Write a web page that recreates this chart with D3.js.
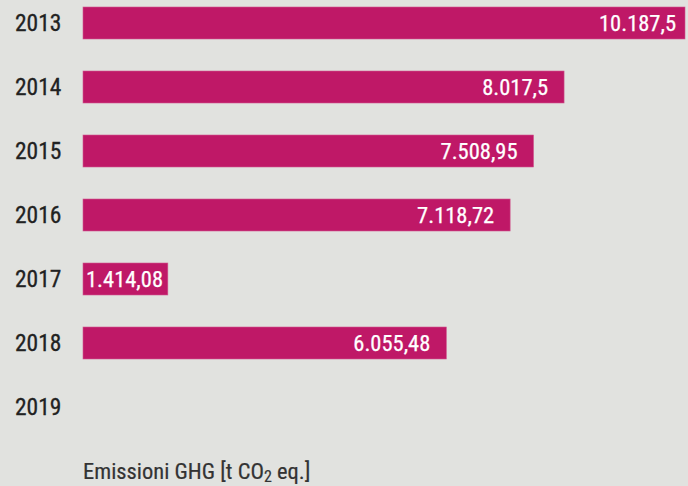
<!DOCTYPE html>
<html><head><meta charset="utf-8">
<script src="https://cdn.jsdelivr.net/npm/d3@7"></script>
<style>
html,body{margin:0;padding:0;background:#e1e2df;}
svg{display:block;}
text{font-family:"Liberation Sans Narrow","Roboto Condensed","DejaVu Sans Condensed",sans-serif;}
</style></head>
<body>
<svg id="c" width="688" height="486"></svg>
<script>
const years = ["2013","2014","2015","2016","2017","2018","2019"];
const values = [10187.5, 8017.5, 7508.95, 7118.72, 1414.08, 6055.48, null];
const axisTitle = "Emissioni GHG [t CO";
const axisTitleSub = "2";
const axisTitleEnd = " eq.]";

const W = 688, H = 486;
const svg = d3.select("#c");
svg.append("rect").attr("width", W).attr("height", H).attr("fill", "#e1e2df");

const loc = d3.formatLocale({decimal: ",", thousands: ".", grouping: [3], currency: ["€", ""]});
const fmt = loc.format(",.2~f");

const x = d3.scaleLinear().domain([0, 10033]).range([83, 685]).clamp(true);
const xFree = x.copy().clamp(false);
const y = d3.scaleBand().domain(years).range([-9, 439]).paddingInner(0.5).paddingOuter(0.25);

const data = years.map((yr, i) => ({yr, v: values[i]}));

// year labels
svg.selectAll("text.yr").data(data).enter().append("text")
  .attr("class", "yr")
  .attr("x", 15)
  .attr("y", d => y(d.yr) + y.bandwidth() / 2)
  .attr("dy", "0.36em")
  .attr("font-size", 23.5)
  .attr("fill", "#222")
  .attr("stroke", "#222")
  .attr("stroke-width", 0.3)
  .text(d => d.yr);

const withVal = data.filter(d => d.v != null);

svg.selectAll("rect.bar").data(withVal).enter().append("rect")
  .attr("class", "bar")
  .attr("x", x(0))
  .attr("y", d => y(d.yr))
  .attr("width", d => x(d.v) - x(0))
  .attr("height", y.bandwidth())
  .attr("fill", "#bf1867")
  .attr("stroke", "#d0588f")
  .attr("stroke-width", 0.6);

const labels = svg.selectAll("text.val").data(withVal).enter().append("text")
  .attr("class", "val")
  .attr("y", d => y(d.yr) + y.bandwidth() / 2)
  .attr("dy", "0.36em")
  .attr("font-size", 22.5)
  .attr("fill", "#fff")
  .attr("stroke", "#fff")
  .attr("stroke-width", 0.25)
  .text(d => fmt(d.v));

labels.each(function(d) {
  const w = this.getComputedTextLength();
  const end = Math.min(xFree(d.v) - 16, 676);
  let xs = end - w;
  if (xs < x(0) + 3) xs = x(0) + 3;
  d3.select(this).attr("x", xs);
});

const t = svg.append("text")
  .attr("x", 83).attr("y", 479)
  .attr("font-size", 22.5)
  .attr("fill", "#333")
  .attr("stroke", "#333")
  .attr("stroke-width", 0.2);
t.append("tspan").text(axisTitle);
t.append("tspan").attr("dy", 3).attr("font-size", 16).text(axisTitleSub);
t.append("tspan").attr("dy", -3).text(axisTitleEnd);
</script>
</body></html>
